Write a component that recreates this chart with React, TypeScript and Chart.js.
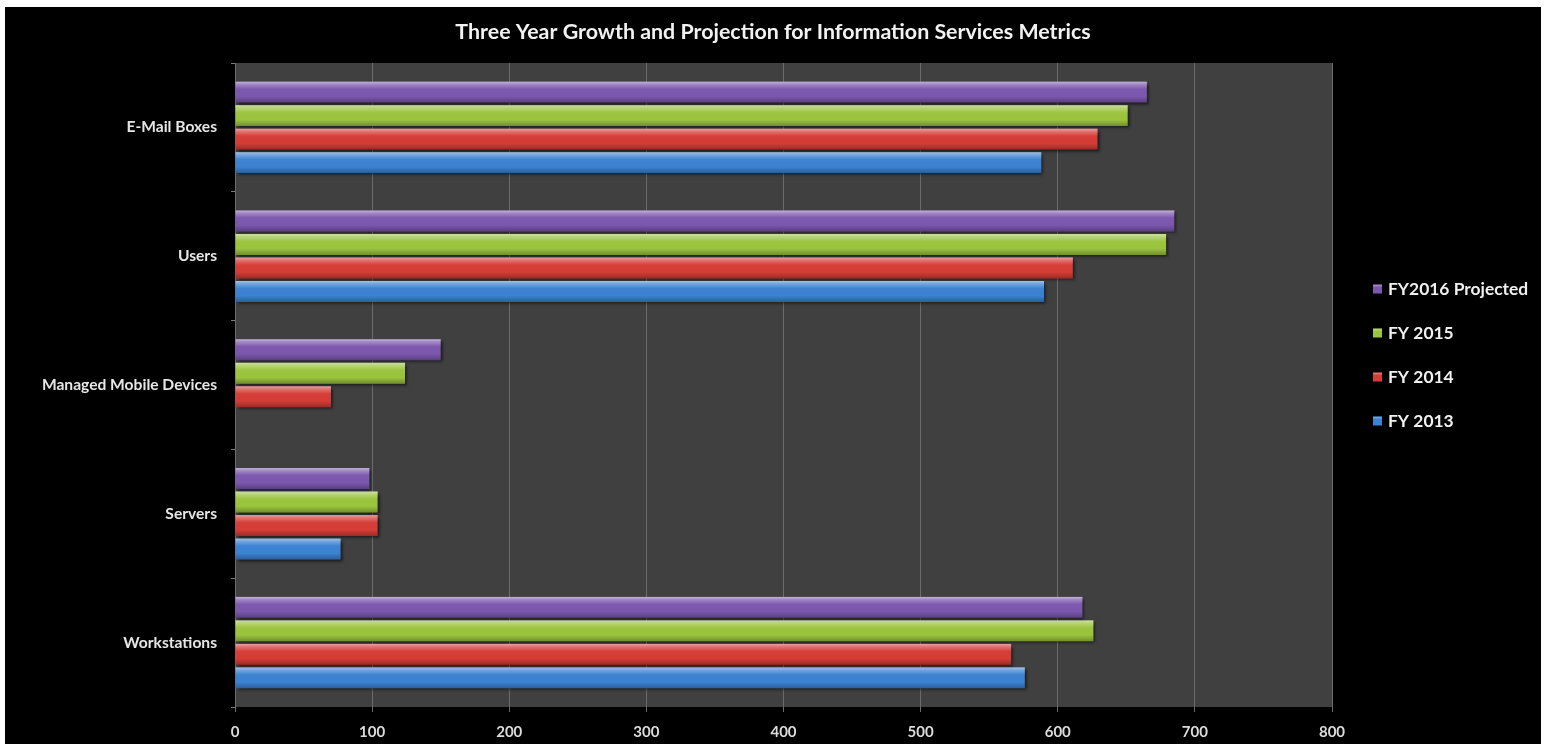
import { useEffect, useRef } from 'react';
import { Chart, registerables } from 'chart.js';

Chart.register(...registerables);

const categories = ['E-Mail Boxes', 'Users', 'Managed Mobile Devices', 'Servers', 'Workstations'];
const seriesNames = ['FY2016 Projected', 'FY 2015', 'FY 2014', 'FY 2013'];
const fy2016 = [665, 685, 150, 98, 618];
const fy2015 = [651, 679, 124, 104, 626];
const fy2014 = [629, 611, 70, 104, 566];
const fy2013 = [588, 590, 0, 77, 576];
const seriesColors = ['#7c57ae', '#9bc43d', '#d63c36', '#3c82d2'];
const xMin = 0;
const xMax = 800;
const xStep = 100;
const titleText = 'Three Year Growth and Projection for Information Services Metrics';

const FONT = 'Lato, "Open Sans", "DejaVu Sans", sans-serif';

const plotBackground = {
  id: 'plotBackground',
  beforeDraw(chart: any) {
    const { ctx, chartArea } = chart;
    if (!chartArea) return;
    ctx.save();
    ctx.fillStyle = '#404040';
    ctx.fillRect(chartArea.left, chartArea.top, chartArea.right - chartArea.left, chartArea.bottom - chartArea.top);
    ctx.restore();
  },
};

const centeredTitle = {
  id: 'centeredTitle',
  afterDraw(chart: any) {
    const ctx = chart.ctx;
    ctx.save();
    ctx.font = `bold 21.4px ${FONT}`;
    ctx.fillStyle = '#f2f2f2';
    ctx.textAlign = 'center';
    ctx.textBaseline = 'middle';
    ctx.fillText(titleText, chart.width / 2, 25);
    ctx.restore();
  },
};

const barShading = {
  id: 'barShading',
  beforeDatasetsDraw(chart: any) {
    const ctx = chart.ctx;
    ctx.save();
    ctx.shadowColor = 'rgba(0,0,0,0.6)';
    ctx.shadowBlur = 3;
    ctx.shadowOffsetX = 2;
    ctx.shadowOffsetY = 2;
  },
  afterDatasetsDraw(chart: any) {
    const ctx = chart.ctx;
    ctx.restore();
    ctx.save();
    chart.data.datasets.forEach((_: any, di: number) => {
      const meta = chart.getDatasetMeta(di);
      if (meta.hidden) return;
      meta.data.forEach((el: any) => {
        const { x, y, base, height } = el.getProps(['x', 'y', 'base', 'height'], true);
        const left = Math.min(x, base);
        const w = Math.abs(x - base);
        if (w < 0.5) return;
        const top = y - height / 2;
        const g = ctx.createLinearGradient(0, top, 0, top + height);
        g.addColorStop(0, 'rgba(255,255,255,0.55)');
        g.addColorStop(0.12, 'rgba(255,255,255,0.3)');
        g.addColorStop(0.35, 'rgba(255,255,255,0.02)');
        g.addColorStop(0.7, 'rgba(0,0,0,0)');
        g.addColorStop(1, 'rgba(0,0,0,0.28)');
        ctx.fillStyle = g;
        ctx.fillRect(left, top, w, height);
      });
    });
    ctx.restore();
  },
};

const sideLegend = {
  id: 'sideLegend',
  afterDraw(chart: any) {
    const ctx = chart.ctx;
    const area = chart.chartArea;
    const boxX = area.right + 41;
    const textX = boxX + 15;
    const firstY = 282;
    const stepY = 44;
    ctx.save();
    ctx.font = `bold 17.4px ${FONT}`;
    ctx.textBaseline = 'middle';
    ctx.textAlign = 'left';
    chart.data.datasets.forEach((ds: any, i: number) => {
      const cy = firstY + i * stepY;
      ctx.fillStyle = ds.backgroundColor;
      ctx.fillRect(boxX, cy - 4.5, 9, 9);
      ctx.fillStyle = 'rgba(255,255,255,0.25)';
      ctx.fillRect(boxX, cy - 4.5, 9, 2);
      ctx.fillStyle = '#f0f0f0';
      ctx.fillText(ds.label, textX, cy);
    });
    ctx.restore();
  },
};

export default function App() {
  const canvasRef = useRef<HTMLCanvasElement | null>(null);

  useEffect(() => {
    if (!canvasRef.current) return;
    const seriesValues = [fy2016, fy2015, fy2014, fy2013];
    const chart = new Chart(canvasRef.current, {
      type: 'bar',
      data: {
        labels: categories,
        datasets: seriesNames.map((name, i) => ({
          label: name,
          data: seriesValues[i],
          backgroundColor: seriesColors[i],
          borderWidth: 0,
          categoryPercentage: 0.73,
          barPercentage: 0.89,
        })),
      },
      options: {
        indexAxis: 'y',
        animation: false,
        responsive: true,
        maintainAspectRatio: false,
        layout: { padding: { top: 56, left: 0, right: 209, bottom: 0 } },
        plugins: {
          legend: { display: false },
          tooltip: { enabled: false },
          title: { display: false },
        },
        scales: {
          x: {
            min: xMin,
            max: xMax,
            ticks: {
              stepSize: xStep,
              color: '#dcdcdc',
              font: { family: FONT, weight: 'bold', size: 15 },
              padding: 11,
            },
            grid: {
              color: '#6c6c6c',
              lineWidth: 1,
              tickLength: 5,
              drawTicks: true,
            },
            border: { display: false },
            afterFit(scale: any) {
              scale.height = 37;
            },
          },
          y: {
            ticks: {
              color: '#e6e6e6',
              font: { family: FONT, weight: 'bold', size: 15.6 },
              padding: 14,
            },
            grid: {
              offset: true,
              drawOnChartArea: false,
              color: '#7a7a7a',
              tickLength: 4,
            },
            border: { display: false },
            afterFit(scale: any) {
              scale.width = 230;
            },
          },
        },
      },
      plugins: [plotBackground, barShading, sideLegend, centeredTitle],
    } as any);
    return () => chart.destroy();
  }, []);

  return (
    <div style={{ position: 'fixed', left: 0, top: 0, width: 1548, height: 744, background: '#ffffff' }}>
      <div style={{ position: 'absolute', left: 5, top: 7, width: 1536, height: 737, background: '#000000' }}>
        <canvas ref={canvasRef} />
      </div>
    </div>
  );
}
